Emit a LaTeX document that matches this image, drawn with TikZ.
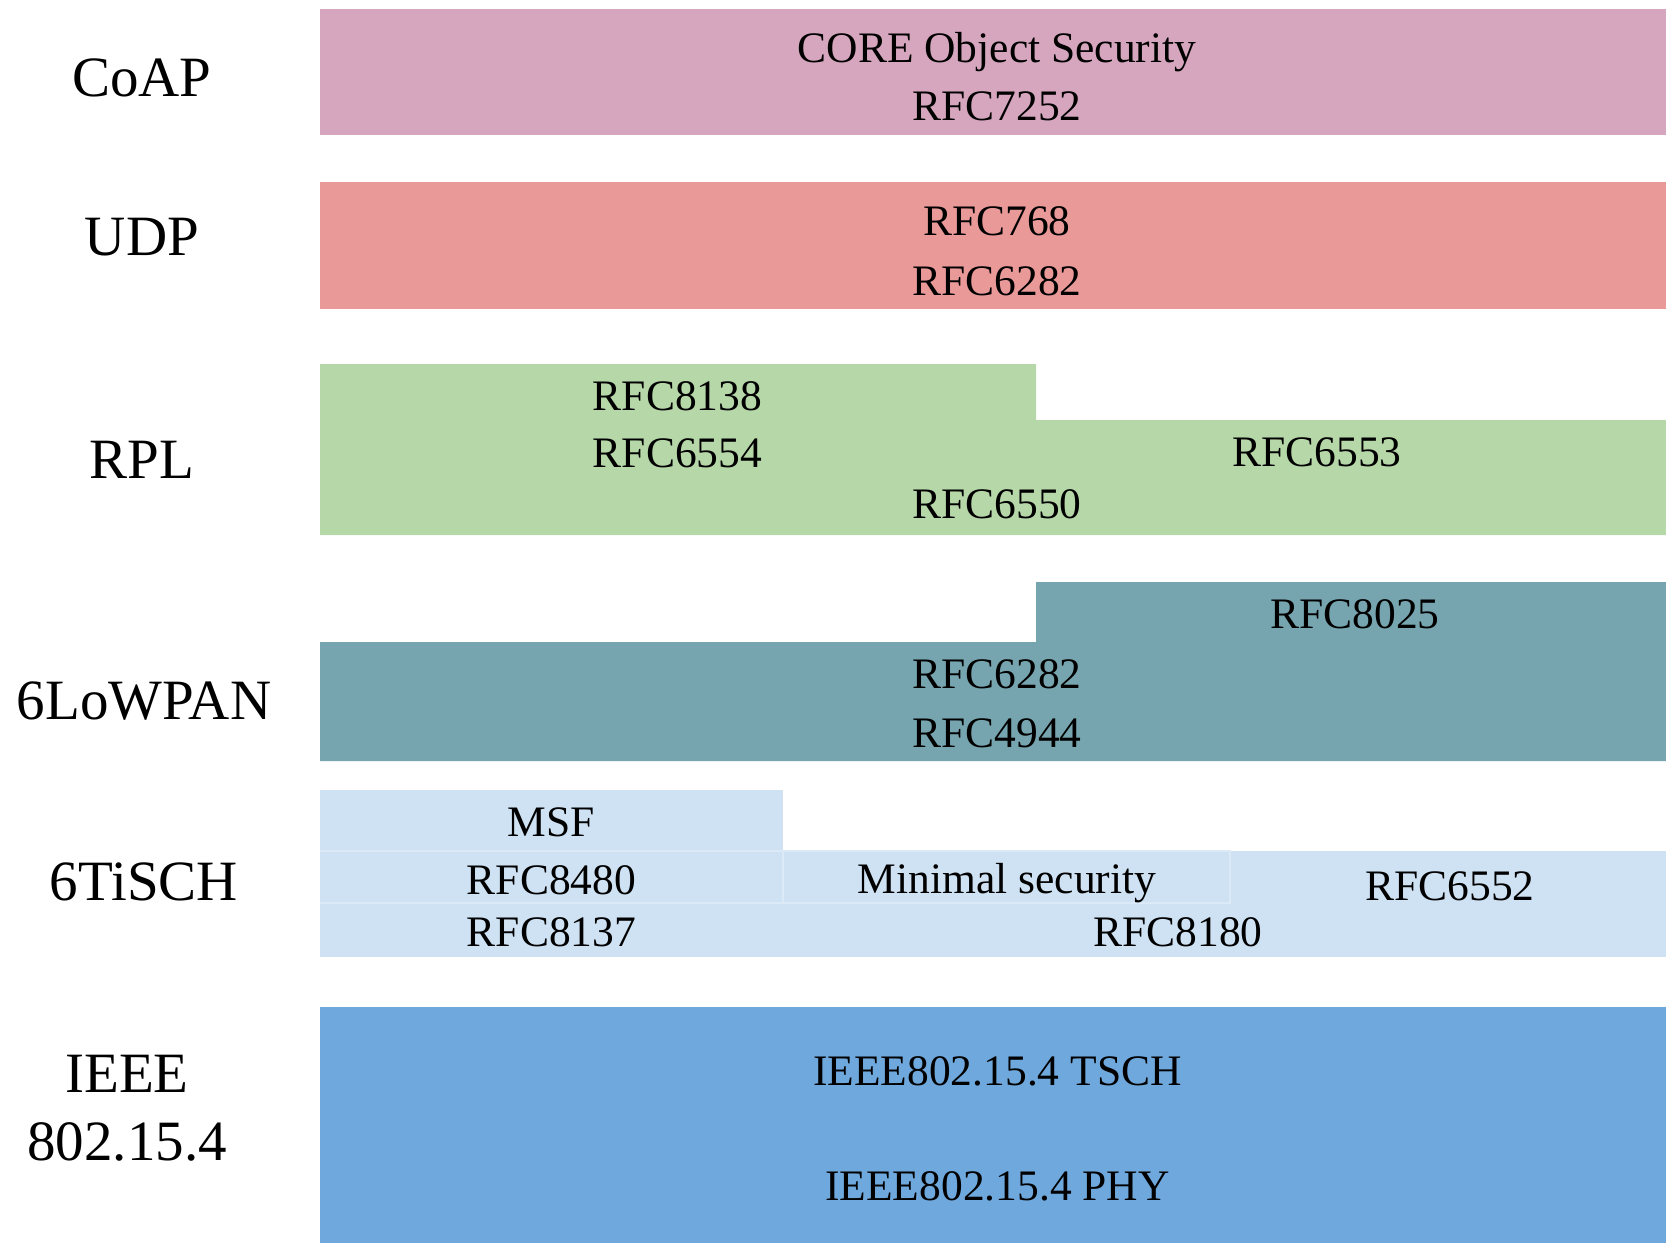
\documentclass[tikz,border=0pt]{standalone}
\usepackage{fontspec}
\setmainfont{Liberation Serif}
\definecolor{coapc}{HTML}{D5A6BD}
\definecolor{udpc}{HTML}{EA9999}
\definecolor{rplc}{HTML}{B6D7A8}
\definecolor{lowpanc}{HTML}{76A5AF}
\definecolor{tischc}{HTML}{CFE2F3}
\definecolor{tischline}{HTML}{DCEAF7}
\definecolor{ieeec}{HTML}{6FA8DC}
\begin{document}
\begin{tikzpicture}[x=1pt,y=-1pt,
  lbl/.style={font=\fontsize{57}{62}\selectfont, anchor=base, inner sep=0pt},
  txt/.style={font=\fontsize{43.5}{48}\selectfont, anchor=base, inner sep=0pt},
  faint/.style={draw=tischline, line width=1.2pt}]
\useasboundingbox (0,0) rectangle (1666,1243);
% layer bands
\fill[coapc] (320,9) rectangle (1666,135);
\fill[udpc] (320,182) rectangle (1666,309);
\fill[rplc] (320,364) -- (1036,364) -- (1036,420) -- (1666,420) -- (1666,535) -- (320,535) -- cycle;
\fill[lowpanc] (320,642) -- (1036,642) -- (1036,582) -- (1666,582) -- (1666,761) -- (320,761) -- cycle;
\fill[tischc] (320,790) rectangle (783,851);
\fill[tischc] (320,851) rectangle (1666,957);
\draw[faint] (320,851) -- (783,851);
\draw[faint] (320,903) -- (783,903);
\draw[faint] (783,851) rectangle (1230,903);
\fill[ieeec] (320,1007) rectangle (1666,1243);
% layer labels
\node[lbl] (lcoap) at (142,96.7) {CoAP};
\node[lbl] (ludp) at (142,255) {UDP};
\node[lbl] (lrpl) at (142,478) {RPL};
\node[lbl] (llowpan) at (144,719.5) {6LoWPAN};
\node[lbl] (ltisch) at (144,900) {6TiSCH};
\node[lbl] (lieee) at (127,1092.7) {IEEE};
\node[lbl] (lieeeb) at (127,1160) {802.15.4};
% box texts
\node[txt] (core) at (997,62.7) {CORE Object Security};
\node[txt] (r7252) at (997,120) {RFC7252};
\node[txt] (r768) at (997,235) {RFC768};
\node[txt] (r6282a) at (997,295) {RFC6282};
\node[txt] (r8138) at (677.5,410) {RFC8138};
\node[txt] (r6554) at (677.5,467.3) {RFC6554};
\node[txt] (r6550) at (997,518) {RFC6550};
\node[txt] (r6553) at (1317,466.7) {RFC6553};
\node[txt] (r8025) at (1355,628) {RFC8025};
\node[txt] (r6282b) at (997,688) {RFC6282};
\node[txt] (r4944) at (997,747.5) {RFC4944};
\node[txt] (msf) at (551.5,836) {MSF};
\node[txt] (r8480) at (551.5,894) {RFC8480};
\node[txt] (r8137) at (551.5,946.7) {RFC8137};
\node[txt] (minsec) at (1007,893.3) {Minimal security};
\node[txt] (r6552) at (1450,900.7) {RFC6552};
\node[txt] (r8180) at (1178,946.7) {RFC8180};
\node[txt] (tsch) at (997.5,1085) {IEEE802.15.4 TSCH};
\node[txt] (phy) at (997.5,1200) {IEEE802.15.4 PHY};
\end{tikzpicture}
\end{document}
